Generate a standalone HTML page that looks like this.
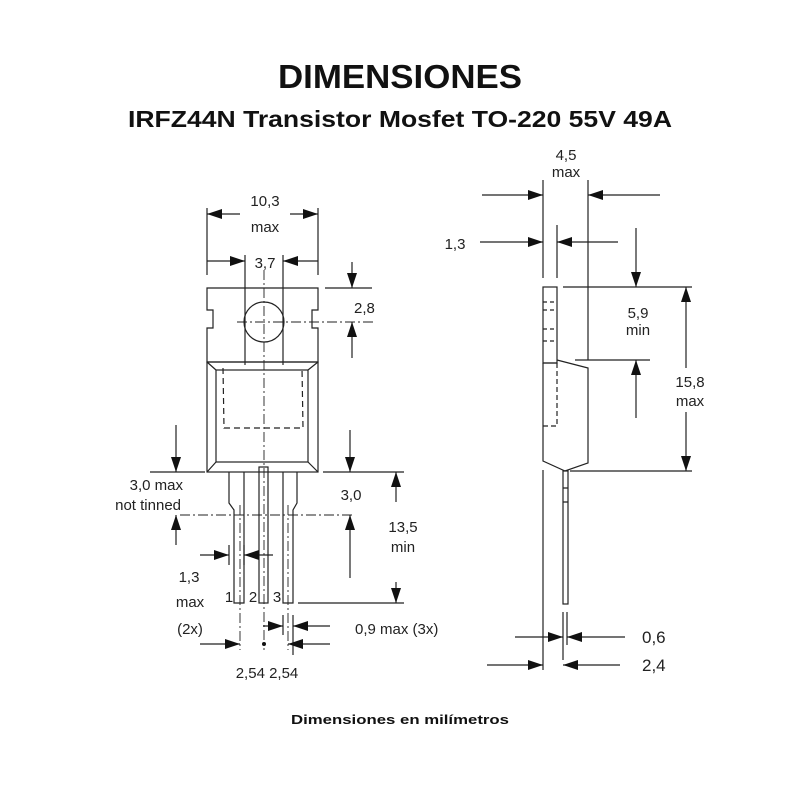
<!DOCTYPE html>
<html><head><meta charset="utf-8"><style>
html,body{margin:0;padding:0;background:#fff;}
svg{display:block;}
.t{font-family:"Liberation Sans",sans-serif;fill:#222;font-size:15px;}
</style></head><body>
<svg width="800" height="800" viewBox="0 0 800 800" xmlns="http://www.w3.org/2000/svg">
<defs>
<marker id="a" markerWidth="16" markerHeight="10" refX="15" refY="5" orient="auto" markerUnits="userSpaceOnUse">
<path d="M0,0 L15,5 L0,10 Z" fill="#111"/></marker>
</defs>
<text x="400" y="88" text-anchor="middle" font-family="Liberation Sans,sans-serif" font-weight="bold" font-size="33" textLength="244" lengthAdjust="spacingAndGlyphs" fill="#111">DIMENSIONES</text>
<text x="400" y="127" text-anchor="middle" font-family="Liberation Sans,sans-serif" font-weight="bold" font-size="23" textLength="544" lengthAdjust="spacingAndGlyphs" fill="#111">IRFZ44N Transistor Mosfet TO-220 55V 49A</text>
<text x="400" y="724" text-anchor="middle" font-family="Liberation Sans,sans-serif" font-weight="bold" font-size="13" textLength="218" lengthAdjust="spacingAndGlyphs" fill="#111">Dimensiones en milímetros</text>

<g stroke="#222" stroke-width="1.2" fill="none">
<path d="M207,288 H318 V310 H312 V328 H318 V362 H207 V328 H213 V310 H207 Z"/>
<circle cx="264" cy="322" r="20"/>
<rect x="207" y="362" width="111" height="110"/>
<rect x="216" y="370" width="92" height="92"/>
<path d="M207,362 L216,370 M318,362 L308,370 M207,472 L216,462 M318,472 L308,462"/>
<path d="M223,368 L224,428 H303 L302,368" stroke-dasharray="6,4"/>
<path d="M229,472 V503 L234,510 V603 H244 V472"/>
<rect x="259" y="467" width="9" height="136"/>
<path d="M283,472 V603 H293 V510 L297,503 V472"/>
<path d="M264,270 V650 M237,322 H373 M180,515 H355 M240,505 V650 M288,505 V650" stroke-dasharray="10,3,2,3" stroke-width="0.9"/>
<path d="M207,208 V275 M318,208 V275 M245,255 V365 M283,255 V365 M325,288 H372 M323,472 H404 M298,603 H404 M150,472 H205"/>
<path d="M229,545 V565 M244,545 V565 M283,615 V635 M293,615 V655"/>
<path d="M240,214 H207" marker-end="url(#a)"/><path d="M290,214 H318" marker-end="url(#a)"/>
<path d="M207,261 H245" marker-end="url(#a)"/><path d="M318,261 H283" marker-end="url(#a)"/>
<path d="M352,262 V288" marker-end="url(#a)"/><path d="M352,358 V322" marker-end="url(#a)"/>
<path d="M176,425 V472" marker-end="url(#a)"/><path d="M176,545 V515" marker-end="url(#a)"/>
<path d="M350,430 V472" marker-end="url(#a)"/><path d="M350,578 V515" marker-end="url(#a)"/>
<path d="M396,502 V472" marker-end="url(#a)"/><path d="M396,582 V603" marker-end="url(#a)"/>
<path d="M200,555 H229" marker-end="url(#a)"/><path d="M273,555 H244" marker-end="url(#a)"/>
<path d="M263,626 H283" marker-end="url(#a)"/><path d="M330,626 H293" marker-end="url(#a)"/>
<path d="M200,644 H240" marker-end="url(#a)"/><path d="M330,644 H288" marker-end="url(#a)"/>

<rect x="543" y="287" width="14" height="76"/>
<path d="M543,302 H557 M543,310 H557 M543,329 H557 M543,341 H557" stroke-dasharray="4,3"/>
<path d="M543,363 H557"/>
<path d="M557,360 L588,368 V463 L565,471 L543,461 V363"/>
<path d="M557,363 V426 H543" stroke-dasharray="5,3"/>
<rect x="563" y="471" width="5" height="133"/>
<path d="M563,488 H568 M563,502 H568"/>
<path d="M543,180 V278 M588,180 V360 M557,225 V278 M543,470 V670 M563,612 V660 M567,612 V645 M563,287 H692 M575,360 H650 M570,471 H692"/>
<path d="M482,195 H543" marker-end="url(#a)"/><path d="M660,195 H588" marker-end="url(#a)"/>
<path d="M480,242 H543" marker-end="url(#a)"/><path d="M618,242 H557" marker-end="url(#a)"/>
<path d="M636,228 V287" marker-end="url(#a)"/><path d="M636,418 V360" marker-end="url(#a)"/>
<path d="M686,368 V287" marker-end="url(#a)"/><path d="M686,412 V471" marker-end="url(#a)"/>
<path d="M515,637 H563" marker-end="url(#a)"/><path d="M625,637 H567" marker-end="url(#a)"/>
<path d="M487,665 H543" marker-end="url(#a)"/><path d="M620,665 H563" marker-end="url(#a)"/>
</g>
<circle cx="264" cy="644" r="2" fill="#111"/>

<g class="t">
<text x="265" y="206" text-anchor="middle">10,3</text>
<text x="265" y="232" text-anchor="middle">max</text>
<text x="265" y="268" text-anchor="middle">3,7</text>
<text x="354" y="313">2,8</text>
<text x="183" y="490" text-anchor="end">3,0 max</text>
<text x="181" y="510" text-anchor="end">not tinned</text>
<text x="351" y="500" text-anchor="middle">3,0</text>
<text x="403" y="532" text-anchor="middle">13,5</text>
<text x="403" y="552" text-anchor="middle">min</text>
<text x="189" y="582" text-anchor="middle">1,3</text>
<text x="190" y="607" text-anchor="middle">max</text>
<text x="190" y="634" text-anchor="middle">(2x)</text>
<text x="229" y="602" text-anchor="middle">1</text>
<text x="253" y="602" text-anchor="middle">2</text>
<text x="277" y="602" text-anchor="middle">3</text>
<text x="355" y="634">0,9 max (3x)</text>
<text x="267" y="678" text-anchor="middle">2,54 2,54</text>
<text x="566" y="160" text-anchor="middle">4,5</text>
<text x="566" y="177" text-anchor="middle">max</text>
<text x="455" y="249" text-anchor="middle">1,3</text>
<text x="638" y="318" text-anchor="middle">5,9</text>
<text x="638" y="335" text-anchor="middle">min</text>
<text x="690" y="387" text-anchor="middle">15,8</text>
<text x="690" y="406" text-anchor="middle">max</text>
<text x="642" y="643" style="font-size:17px">0,6</text>
<text x="642" y="671" style="font-size:17px">2,4</text>
</g>
</svg>
</body></html>
